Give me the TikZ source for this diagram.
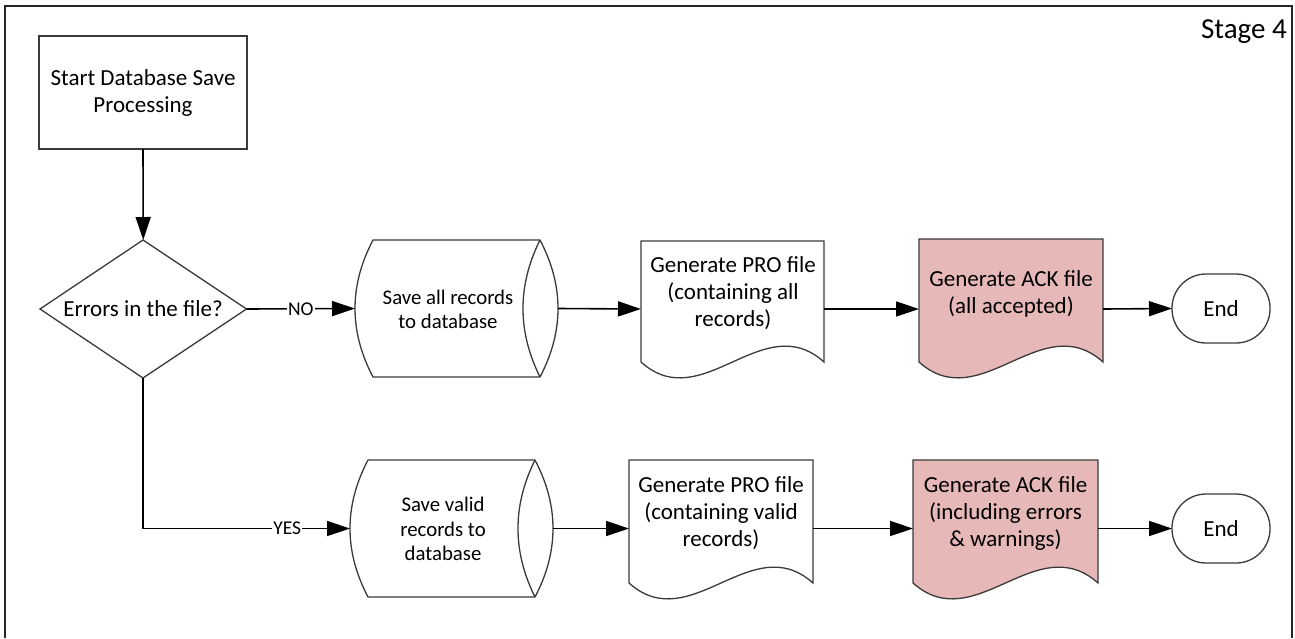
\documentclass[tikz,border=0pt]{standalone}
\usepackage{fontspec}
\setmainfont{Carlito}
\usetikzlibrary{arrows.meta}
\definecolor{ackpink}{HTML}{E6B8B7}
\definecolor{edgecol}{HTML}{3A3A3A}
\tikzset{
  shapeline/.style={draw=edgecol, line width=1.3pt, line join=miter},
  box/.style={rectangle, inner sep=0pt, outer sep=0pt},
  maintext/.style={font=\fontsize{23}{27}\selectfont, align=center, inner sep=0pt, text=black},
  storetext/.style={font=\fontsize{20.8}{24.5}\selectfont, align=center, inner sep=0pt, text=black},
  lbl/.style={font=\fontsize{19.5}{22}\selectfont, fill=white, inner sep=1pt, text=black},
  flow/.style={draw=black, line width=1.6pt, -{Triangle[length=23pt,width=15pt]}},
  startbox/.style={box, draw=edgecol, line width=1.5pt, minimum width=208pt, minimum height=113pt, maintext},
  endshape/.style={box, draw=edgecol, line width=1.3pt, fill=white, rounded corners=34pt, minimum width=98pt, minimum height=69pt, maintext}
}
\newcommand{\mkstore}[4]{%
  \draw[shapeline, fill=white] (#1,#3) -- (#2,#3)
    .. controls ({#2+24},{#3+(#4-#3)/3}) and ({#2+24},{#4-(#4-#3)/3}) .. (#2,#4)
    -- (#1,#4)
    .. controls ({#1-24},{#4-(#4-#3)/3}) and ({#1-24},{#3+(#4-#3)/3}) .. (#1,#3) -- cycle;
  \draw[shapeline] (#2,#3)
    .. controls ({#2-22.7},{#3+(#4-#3)/3}) and ({#2-22.7},{#4-(#4-#3)/3}) .. (#2,#4);}
\newcommand{\mkdoc}[5]{%
  \draw[shapeline, fill=#5] (#1,#4) -- (#1,#3) -- (#2,#3) -- (#2,#4)
    .. controls ({#2-(#2-#1)/3},{#4-55}) and ({#1+(#2-#1)/3},{#4+55}) .. (#1,#4) -- cycle;}
\begin{document}
\begin{tikzpicture}[x=1pt, y=-1pt]
\useasboundingbox (0,0) rectangle (1295,638);
% frame
\draw[draw=black!85, line width=1.8pt] (5,638) -- (5,6) -- (1292,6) -- (1292,638);
\node[font=\fontsize{29}{34}\selectfont, anchor=base east, inner sep=0pt] (stage) at (1287,38) {Stage 4};

% start and decision
\node[startbox] (start) at (143,92.5) {Start Database Save\\Processing};
\draw[shapeline] (40,309) -- (143,240) -- (246.5,309) -- (143,378) -- cycle;
\node[box, minimum width=206.5pt, minimum height=138pt] (dec) at (143.25,309) {};
\node[maintext] (dectxt) at (143,309) {Errors in the file?};

% upper row shapes
\mkstore{373}{540}{240}{377}
\node[box, minimum width=203pt, minimum height=137pt] (store1) at (456.5,308.5) {};
\node[storetext] (store1t) at (448,309.5) {Save all records\\to database};

\mkdoc{641}{824}{241}{362}{white}
\node[box, minimum width=183pt, minimum height=136pt] (doc1) at (732.5,309) {};
\node[maintext] (doc1t) at (733,293) {Generate PRO file\\(containing all\\records)};

\mkdoc{919}{1103}{239}{362}{ackpink}
\node[box, minimum width=184pt, minimum height=140pt] (ack1) at (1011,309) {};
\node[maintext] (ack1t) at (1011,294) {Generate ACK file\\(all accepted)};

\node[endshape] (end1) at (1221,308.5) {End};

% lower row shapes
\mkstore{368}{535}{460}{597}
\node[box, minimum width=203pt, minimum height=137pt] (store2) at (451.5,528.5) {};
\node[storetext] (store2t) at (443,529) {Save valid\\records to\\database};

\mkdoc{629}{813}{460}{583}{white}
\node[box, minimum width=184pt, minimum height=137pt] (doc2) at (721,528.5) {};
\node[maintext] (doc2t) at (721,513) {Generate PRO file\\(containing valid\\records)};

\mkdoc{913}{1098}{460}{583}{ackpink}
\node[box, minimum width=185pt, minimum height=137pt] (ack2) at (1005.5,528.5) {};
\node[maintext] (ack2t) at (1005.5,513) {Generate ACK file\\(including errors\\\& warnings)};

\node[endshape] (end2) at (1221,528.5) {End};

% connectors
\draw[flow] (start.south) -- (dec.north);
\draw[flow] (dec.east) -- node[lbl] (nolbl) {NO} (store1.west);
\draw[flow] (dec.south) |- node[lbl, pos=0.848] (yeslbl) {YES} (store2.west);
\draw[flow] (store1.east) -- (doc1.west);
\draw[flow] (doc1.east) -- (ack1.west);
\draw[flow] (ack1.east) -- (end1.west);
\draw[flow] (store2.east) -- (doc2.west);
\draw[flow] (doc2.east) -- (ack2.west);
\draw[flow] (ack2.east) -- (end2.west);
\end{tikzpicture}
\end{document}
